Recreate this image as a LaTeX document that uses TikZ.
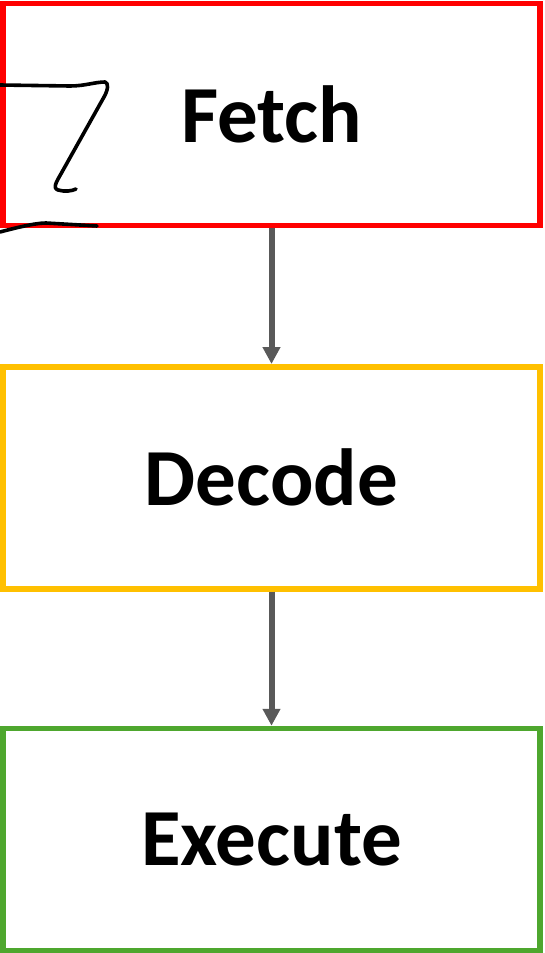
\documentclass[tikz,border=0pt]{standalone}
\usepackage{fontspec}
\setmainfont{Carlito}
\usetikzlibrary{arrows.meta}
\definecolor{fetchred}{HTML}{FF0000}
\definecolor{decodegold}{HTML}{FFC000}
\definecolor{execgreen}{HTML}{4EA72E}
\definecolor{arrowgray}{HTML}{595959}
\tikzset{
  stagebox/.style={draw, line width=5.5pt, minimum width=537pt, minimum height=222pt,
    inner sep=0pt, font=\fontsize{81}{90}\selectfont\bfseries},
  flow/.style={draw=arrowgray, line width=6pt,
    -{Triangle[length=17pt, width=17pt]}},
  ink/.style={draw=black, line width=3.6pt, line cap=round, line join=round}
}
\begin{document}
\begin{tikzpicture}[x=1pt, y=-1pt]
  \useasboundingbox (0,0) rectangle (544,953);
  % the three pipeline stages
  \node[stagebox, draw=fetchred]   (fetch)   at (271.5,114.25) {Fetch};
  \node[stagebox, draw=decodegold] (decode)  at (271.5,477.75) {Decode};
  \node[stagebox, draw=execgreen]  (execute) at (271.5,839.5)  {Execute};
  % flow between stages
  \draw[flow] (fetch.south) -- (decode.north);
  \draw[flow] (decode.south) -- (execute.north);
  % freehand pen strokes over the first box
  \draw[ink] (0,85) -- (70,86) .. controls (85,86) and (95,82) .. (105,82)
    .. controls (109,83) and (108,90) .. (104,97) -- (62,172)
    .. controls (57,181) and (52,188) .. (58,190)
    .. controls (65,192) and (72,191) .. (76,189);
  \draw[ink] (0,232) .. controls (15,228) and (35,223) .. (46,223) -- (97,226);
\end{tikzpicture}
\end{document}
